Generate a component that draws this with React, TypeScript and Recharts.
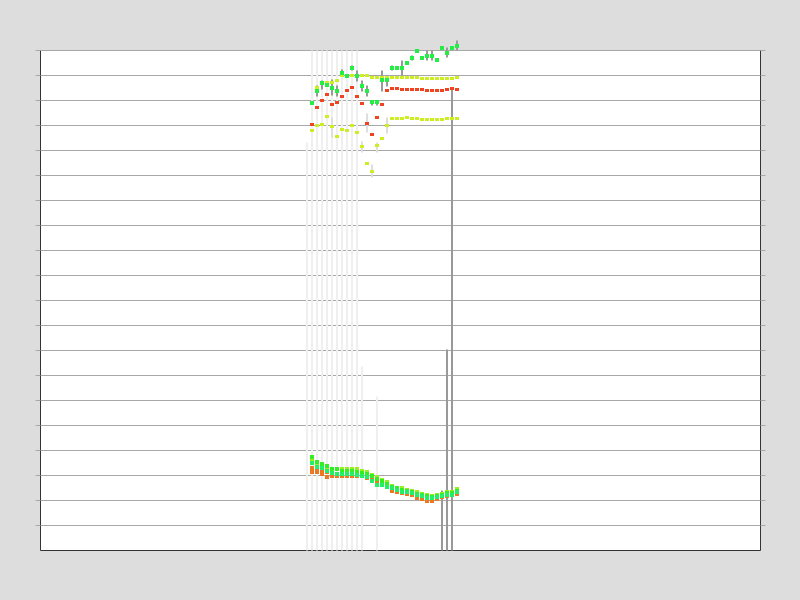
import {
  ComposedChart,
  Scatter,
  ErrorBar,
  XAxis,
  YAxis,
  CartesianGrid,
  ReferenceLine,
} from "recharts";

// x domain chosen so that session k sits on column k
const X_MIN = -54.3;
const X_MAX = 89.7;

const days = [
  0, 1, 2, 3, 4, 5, 6, 7, 8, 9, 10, 11, 12, 13, 14, 15, 16, 17, 18, 19, 20, 21,
  22, 23, 24, 25, 26, 27, 28, 29,
];

const yTicks = [1, 2, 3, 4, 5, 6, 7, 8, 9, 10, 11, 12, 13, 14, 15, 16, 17, 18, 19, 20];

// upper group
const greenTop = [
  17.91, 18.4, 18.69, 18.6, 18.51, 18.37, 19.09, 19.0, 19.31, 19.0, 18.57, 18.37,
  17.92, 17.92, 18.8, 18.8, 19.31, 19.31, 19.31, 19.51, 19.71, 20.0, 19.71, 19.8,
  19.8, 19.6, 20.11, 19.91, 20.11, 20.2,
];
const greenHigh = [
  null, 18.6, 18.8, null, 18.84, 18.6, 19.24, null, 19.4, 19.2, 18.8, 18.6, 18.0,
  18.0, 19.2, 19.0, 19.4, null, 19.6, null, 19.8, null, null, 20.0, 20.0, null,
  null, 20.12, null, 20.4,
];
const greenLow = [
  null, 18.16, 18.44, null, 18.2, 18.16, 18.96, null, 19.2, 18.76, 18.36, 18.16,
  17.8, 17.8, 18.36, 18.56, 19.2, null, 19.0, null, 19.6, null, null, 19.6, 19.6,
  null, null, 19.72, null, 20.0,
];
const yellowTop = [
  null, 18.53, null, 18.71, 18.73, 18.8, 19.0, 19.0, 19.0, 19.0, 19.0, 19.0, 18.92,
  18.93, 18.93, 18.91, 18.91, 18.91, 18.91, 18.91, 18.91, 18.91, 18.87, 18.87,
  18.87, 18.87, 18.87, 18.87, 18.87, 18.91,
];
const redTop = [
  17.03, 17.71, 17.99, 18.24, 17.84, 17.91, 18.15, 18.39, 18.51, 18.15, 17.87,
  17.07, 16.64, 17.31, 17.84, 18.39, 18.47, 18.47, 18.43, 18.43, 18.43, 18.43,
  18.43, 18.39, 18.39, 18.39, 18.39, 18.43, 18.47, 18.43,
];
const yellowMid = [
  16.8, 17.0, 17.04, 17.36, 16.96, 16.56, 16.84, 16.8, 17.0, 16.71, 16.15, 15.47,
  15.16, 16.2, 16.47, 17.0, 17.27, 17.27, 17.27, 17.31, 17.27, 17.27, 17.23, 17.23,
  17.23, 17.23, 17.23, 17.27, 17.27, 17.27,
];
const midRangeDays = [4, 10, 11, 12, 13, 15];
const midRangeLow = [16.52, 15.92, 16.72, 14.92, 15.92, 16.68];
const midRangeHigh = [17.32, 16.36, 17.48, 15.44, 16.32, 17.32];

// faint full-height spreads and long grey tails
const spreadDays = [-1, 0, 1, 2, 3, 4, 5, 6, 7, 8, 9, 10, 13];
const spreadHigh = [16.33, 20, 20, 20, 20, 20, 20, 20, 20, 20, 20, 7.36, 6.16];
const tailDays = [26, 27, 28];
const tailHigh = [2.4, 8.04, 18.52];

// lower group
const bottomYellow = [
  3.64, 3.52, 3.44, 3.32, 3.24, 3.28, 3.24, 3.24, 3.24, 3.24, 3.2, 3.16, 3.04, 2.92,
  2.84, 2.72, 2.6, 2.52, 2.48, 2.44, 2.4, 2.33, 2.28, 2.24, 2.2, 2.24, 2.27, 2.36,
  2.36, 2.45,
];
const bottomGreen = [
  3.73, 3.55, 3.47, 3.36, 3.27, 3.25, 3.17, 3.17, 3.17, 3.16, 3.11, 3.07, 2.97, 2.87,
  2.78, 2.67, 2.53, 2.49, 2.43, 2.4, 2.33, 2.25, 2.23, 2.2, 2.13, 2.2, 2.24, 2.31,
  2.31, 2.39,
];
const bottomTeal = [
  3.51, 3.35, 3.31, 3.2, 3.11, 3.07, 3.07, 3.07, 3.07, 3.04, 3.0, 2.92, 2.77, 2.64,
  2.64, 2.56, 2.48, 2.43, 2.36, 2.36, 2.32, 2.22, 2.17, 2.12, 2.12, 2.16, 2.2, 2.24,
  2.24, 2.33,
];
const bottomOrange = [
  3.15, 3.12, 3.08, 2.93, 2.99, 2.97, 2.97, 2.97, 2.97, 2.97, 2.97, 2.9, 2.87, 2.76,
  2.68, 2.56, 2.4, 2.33, 2.29, 2.25, 2.22, 2.11, 2.07, 1.96, 1.99, 2.07, 2.13, 2.2,
  2.23, 2.27,
];
const orange2Days = [0, 1, 2, 3];
const bottomOrange2 = [3.31, 3.24, 3.2, 3.12];

function points(xs: number[], values: (number | null)[]) {
  return xs
    .map((x, i) => ({ x, y: values[i] }))
    .filter((p) => p.y != null);
}

function ranges(xs: number[], lows: (number | null)[], highs: (number | null)[]) {
  const out: { x: number; y: number; err: number[] }[] = [];
  xs.forEach((x, i) => {
    const lo = lows[i];
    const hi = highs[i];
    if (lo == null || hi == null) return;
    out.push({ x, y: lo, err: [0, hi - lo] });
  });
  return out;
}

const box = (fill: string, w: number, h: number) => (p: any) =>
  <rect x={Math.round(p.cx - w / 2)} y={Math.round(p.cy - h / 2)} width={w} height={h} fill={fill} />;
const none = () => <g />;

const GRID = "#a8a8a8";
const FRAME = "#333333";
const blank = () => "";

export default function App() {
  const zeros = spreadDays.map(() => 0);
  const tailZeros = tailDays.map(() => 0);
  return (
    <div
      style={{
        position: "fixed",
        left: 0,
        top: 0,
        width: 800,
        height: 600,
        background: "#dddddd",
      }}
    >
      <div
        style={{
          position: "absolute",
          left: 40,
          top: 50,
          width: 720,
          height: 500,
          background: "#ffffff",
        }}
      />
      <div style={{ position: "absolute", left: 0, top: 0 }}>
        <ComposedChart
          width={800}
          height={600}
          margin={{ top: 25.5, right: -0.5, bottom: 49.5, left: 0.5 }}
        >
          <CartesianGrid
            horizontal
            vertical={false}
            stroke={GRID}
            horizontalValues={yTicks}
          />
          <XAxis
            type="number"
            dataKey="x"
            domain={[X_MIN, X_MAX]}
            hide
          />
          <YAxis
            type="number"
            dataKey="y"
            domain={[0, 21]}
            ticks={yTicks}
            interval={0}
            width={40}
            axisLine={false}
            tickFormatter={blank}
            tickSize={5}
            tickLine={{ stroke: GRID }}
          />
          <YAxis
            yAxisId="r"
            orientation="right"
            type="number"
            domain={[0, 21]}
            allowDataOverflow
            ticks={yTicks}
            interval={0}
            width={40}
            axisLine={false}
            tickFormatter={blank}
            tickSize={5}
            tickLine={{ stroke: GRID }}
          />

          <ReferenceLine
            segment={[{ x: X_MIN, y: 0 }, { x: X_MIN, y: 20 }]}
            stroke={FRAME}
          />
          <ReferenceLine
            segment={[{ x: X_MAX, y: 0 }, { x: X_MAX, y: 20 }]}
            stroke={FRAME}
          />
          <ReferenceLine
            segment={[{ x: X_MIN, y: 0 }, { x: X_MAX, y: 0 }]}
            stroke={FRAME}
          />

          <Scatter
            data={ranges(spreadDays, zeros, spreadHigh)}
            shape={none}
            isAnimationActive={false}
          >
            <ErrorBar dataKey="err" direction="y" width={0} stroke="#efefef" strokeWidth={2} isAnimationActive={false} />
          </Scatter>
          <Scatter
            data={ranges(midRangeDays, midRangeLow, midRangeHigh)}
            shape={none}
            isAnimationActive={false}
          >
            <ErrorBar dataKey="err" direction="y" width={0} stroke="#dedede" strokeWidth={2} isAnimationActive={false} />
          </Scatter>
          <Scatter
            data={points(days, yellowMid)}
            shape={box("#ccee22", 4, 3)}
            isAnimationActive={false}
          />
          <Scatter
            data={ranges(tailDays, tailZeros, tailHigh)}
            shape={none}
            isAnimationActive={false}
          >
            <ErrorBar dataKey="err" direction="y" width={0} stroke="#999999" strokeWidth={2} isAnimationActive={false} />
          </Scatter>
          <Scatter
            data={points(days, redTop)}
            shape={box("#ee4422", 4, 3)}
            isAnimationActive={false}
          />
          <Scatter
            data={points(days, yellowTop)}
            shape={box("#ccee22", 4, 3)}
            isAnimationActive={false}
          />
          <Scatter
            data={ranges(days, greenLow, greenHigh)}
            shape={none}
            isAnimationActive={false}
          >
            <ErrorBar dataKey="err" direction="y" width={0} stroke="#999999" strokeWidth={2} isAnimationActive={false} />
          </Scatter>
          <Scatter
            data={points(days, greenTop)}
            shape={box("#22ee44", 4, 4)}
            isAnimationActive={false}
          />

          <Scatter
            data={points(orange2Days, bottomOrange2)}
            shape={box("#ee7722", 4, 4)}
            isAnimationActive={false}
          />
          <Scatter
            data={points(days, bottomOrange)}
            shape={box("#ee7722", 4, 4)}
            isAnimationActive={false}
          />
          <Scatter
            data={points(days, bottomYellow)}
            shape={box("#99ee22", 4, 4)}
            isAnimationActive={false}
          />
          <Scatter
            data={points(days, bottomGreen)}
            shape={box("#33ee22", 4, 4)}
            isAnimationActive={false}
          />
          <Scatter
            data={points(days, bottomTeal)}
            shape={box("#22ee66", 4, 4)}
            isAnimationActive={false}
          />
        </ComposedChart>
      </div>
    </div>
  );
}
